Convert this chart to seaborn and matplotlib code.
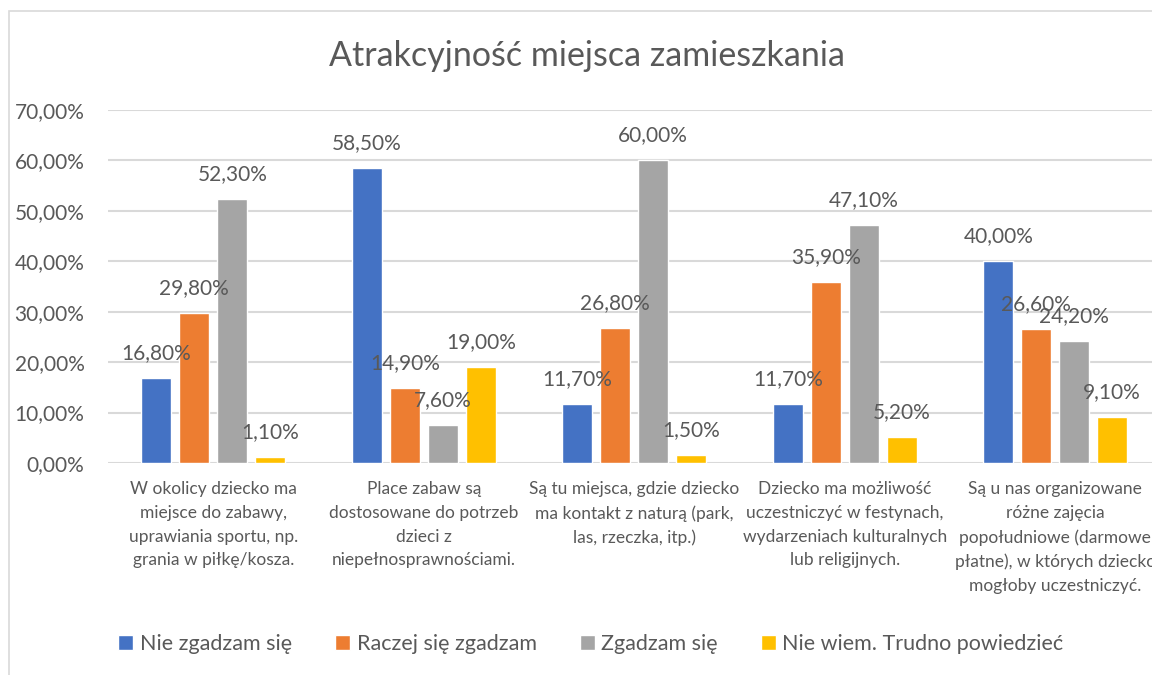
import matplotlib as mpl
mpl.use('agg')
import matplotlib.pyplot as plt
from matplotlib.patches import Rectangle
import numpy as np
import pandas as pd
import seaborn as sns

# Chart data
title = "Atrakcyjność miejsca zamieszkania"
categories = [
    "W okolicy dziecko ma\nmiejsce do zabawy,\nuprawiania sportu, np.\ngrania w piłkę/kosza.",
    "Place zabaw są\ndostosowane do potrzeb\ndzieci z\nniepełnosprawnościami.",
    "Są tu miejsca, gdzie dziecko\nma kontakt z naturą (park,\nlas, rzeczka, itp.)",
    "Dziecko ma możliwość\nuczestniczyć w festynach,\nwydarzeniach kulturalnych\nlub religijnych.",
    "Są u nas organizowane\nróżne zajęcia\npopołudniowe (darmowe\npłatne), w których dziecko\nmogłoby uczestniczyć.",
]
series = ["Nie zgadzam się", "Raczej się zgadzam", "Zgadzam się", "Nie wiem. Trudno powiedzieć"]
nie_zgadzam = [16.8, 58.5, 11.7, 11.7, 40.0]
raczej_zgadzam = [29.8, 14.9, 26.8, 35.9, 26.6]
zgadzam = [52.3, 7.6, 60.0, 47.1, 24.2]
nie_wiem = [1.1, 19.0, 1.5, 5.2, 9.1]
y_ticks = [0, 10, 20, 30, 40, 50, 60, 70]

colors = ["#4472C4", "#ED7D31", "#A5A5A5", "#FFC000"]
text_col = "#595959"
grid_col = "#D9D9D9"

rows = []
for name, vals in zip(series, [nie_zgadzam, raczej_zgadzam, zgadzam, nie_wiem]):
    for cat, v in zip(categories, vals):
        rows.append({"kategoria": cat, "seria": name, "wartosc": v})
df = pd.DataFrame(rows)

sns.set_style("white")
plt.rcParams['font.family'] = ['Lato', 'DejaVu Sans']

fig = plt.figure(figsize=(11.52, 6.75), dpi=100)
ax = fig.add_axes([108 / 1152, 212 / 675, 1052.5 / 1152, 353 / 675])

sns.barplot(data=df, x="kategoria", y="wartosc", hue="seria", order=categories,
            hue_order=series, palette=colors, width=0.722, gap=0.21,
            saturation=1, legend=True, ax=ax)

# Data labels above each bar
for cont in ax.containers:
    for bar in cont:
        h = bar.get_height()
        ax.annotate(f"{h:.2f}%".replace('.', ','),
                    (bar.get_x() + bar.get_width() / 2, h),
                    xytext=(0, 18), textcoords='offset points',
                    ha='center', va='center', fontsize=15, color=text_col,
                    annotation_clip=False)

ax.set_xlim(-0.5, len(categories) - 0.5)
ax.set_ylim(0, 70)
ax.set_yticks(y_ticks)
ax.set_yticklabels([f"{t:.2f}%".replace('.', ',') for t in y_ticks])
ax.yaxis.grid(True, color=grid_col, linewidth=1.5)
ax.set_axisbelow(True)
for s in ax.spines.values():
    s.set_visible(False)
ax.tick_params(axis='y', length=0, pad=17, labelsize=15, labelcolor=text_col)
ax.tick_params(axis='x', length=0, pad=13, labelsize=12.5, labelcolor=text_col)
for lab in ax.get_xticklabels():
    lab.set_linespacing(1.6)
    lab.set_va('top')
ax.set_xlabel("")
ax.set_ylabel("")

# Legend below the plot
handles, labels = ax.get_legend_handles_labels()
ax.get_legend().remove()
fig.legend(handles, labels, loc='center', bbox_to_anchor=(591 / 1152, 1 - 644 / 675),
           ncol=4, frameon=False, fontsize=15.5, labelcolor=text_col,
           handlelength=0.7, handleheight=0.7, handletextpad=0.3, columnspacing=2.0)

fig.text(587 / 1152, 1 - 56 / 675, title, ha='center', va='center',
         fontsize=24.5, color=text_col)

# Chart frame (cropped on the right and bottom)
fig.add_artist(Rectangle((9 / 1152, -0.2), 2, 1.2 - 11 / 675, transform=fig.transFigure,
                         fill=False, edgecolor=grid_col, linewidth=1.2, clip_on=False))

plt.savefig("out.png", dpi=100)
